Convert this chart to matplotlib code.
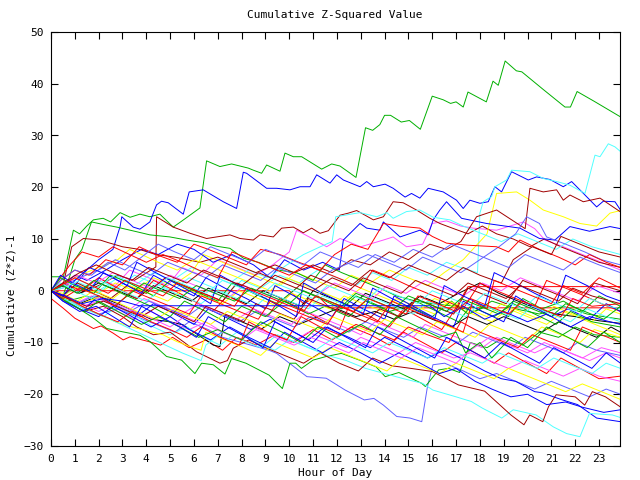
import matplotlib
matplotlib.use("Agg")
import matplotlib.pyplot as plt

# (hour, cumulative value) vertices, one list per trace
green_1 = [(0, 2.7), (0.52, 2.7), (0.94, 11.7), (1.2, 11), (1.5, 12.5), (1.78, 13.7), (2.19, 14.0), (2.5, 13.3),
           (2.9, 15.1), (3.32, 14.2), (3.73, 14.8), (4.15, 14.3), (4.57, 14.8), (5.13, 12.3), (5.5, 13.5), (6.25, 16),
           (6.53, 25.1), (7.09, 24), (7.58, 24.5), (8.28, 23.7), (8.49, 23.3), (8.84, 22.7), (9.05, 24.3), (9.61, 23.1),
           (9.82, 26.6), (10.17, 25.9), (10.52, 25.9), (11.36, 23.5), (11.78, 24.5), (12.13, 24.1), (12.8, 21.9),
           (13.2, 31.5), (13.5, 31.0), (13.8, 32.1), (14.0, 33.9), (14.25, 33.9), (14.7, 32.6), (15.04, 32.9),
           (15.5, 31.2), (16.0, 37.6), (16.46, 36.9), (16.77, 36.2), (17.0, 36.5), (17.3, 35.5), (17.5, 38.4),
           (18.27, 36.5), (18.55, 40.5), (18.77, 39.7), (19.06, 44.4), (19.53, 42.5), (19.76, 42.3), (20.63, 39.0),
           (21.57, 35.5), (21.8, 35.5), (22.08, 38.5), (22.8, 36.6), (23.9, 33.6)]
green_2 = [(0, 0), (0.5, -1), (0.8, 3), (1.0, 6), (1.3, 8), (1.7, 13.3), (2.2, 12.8), (2.76, 12.3), (3.6, 11.4),
           (4.15, 10.8), (4.99, 10.4), (5.69, 9.8), (6.39, 9.3), (6.95, 8.6), (7.51, 8.2), (8.07, 6.3), (8.7, 5.5),
           (9.5, 4), (10.3, 3.5), (11, 2), (11.5, 5), (12.2, 3.5), (13, 2), (13.8, 0.5), (14.5, -1), (15.3, -2),
           (16, -2.5), (17, -3), (17.8, -4), (18.5, -2), (19.5, -3.5), (20.5, -4.5), (21.5, -3), (22.5, -4.5),
           (23.9, -5.5)]
green_3 = [(0, 0), (0.5, -1.5), (1, -3), (1.7, -5), (2.34, -7.3), (2.97, -7.9), (3.73, -8.6), (4.15, -9.8),
           (4.85, -12.7), (5.48, -13.4), (6.04, -16), (6.32, -14.0), (6.81, -14.3), (7.3, -16.1), (7.58, -13.1),
           (8.18, -14), (9.15, -16.3), (9.71, -18.9), (10.03, -14), (10.27, -14), (10.51, -15), (11.0, -13.4),
           (11.55, -12.7), (12.19, -12.1), (13.0, -13.5), (13.64, -14.7), (14.03, -16.6), (14.6, -15.8),
           (15.56, -17.9), (15.71, -18.5), (16.27, -15.3), (16.68, -15.0), (17.15, -15.8), (17.6, -10), (18.3, -11),
           (19, -9), (19.8, -10.5), (20.5, -8), (21.3, -9), (22, -7), (22.8, -8.5), (23.9, -9)]
green_4 = [(0, 0), (0.7, -2), (1.5, -1), (2.5, -3.5), (3.2, -1), (4.2, -3), (5, -5), (5.6, -2), (6.5, -4), (7.3, -6),
           (8, -3), (9, -5), (9.8, -2), (10.8, -4.5), (11.5, -3), (12.5, -5), (13.2, -2), (14.2, -4), (15, -3),
           (16, -5), (16.8, -2), (17.5, -4.5), (18.3, -3), (19.2, -5), (19.8, -1.5), (20.6, -3.5), (21.5, -2),
           (22.3, -4), (23, -1), (23.9, -3)]
green_5 = [(0, 0), (0.4, 2.5), (1, 1), (1.8, -0.5), (2.5, 3), (3.3, 1.5), (4.3, -1), (5, 2), (6, 0), (7, -2),
           (7.6, 1.5), (8.5, -0.5), (9.5, -2.5), (10.3, 0.5), (11.3, -1.5), (12.2, -3.5), (12.8, -1), (13.8, -3),
           (14.6, -5), (15.3, -2), (16.2, -4), (17.1, -6), (17.6, -3), (18.6, -5), (19.4, -2.5), (20.3, -4.5),
           (21.2, -6.5), (21.8, -4), (22.7, -6), (23.9, -7)]
green_6 = [(0, 0), (0.6, -2), (1.4, -4), (2, -2), (3, -4.5), (3.8, -6.5), (4.5, -5), (5.4, -7), (6.2, -9),
           (7, -7.5), (8, -9.5), (8.8, -6), (9.7, -8), (10.5, -10), (11.2, -7), (12, -9), (13, -6.5), (13.8, -8.5),
           (14.5, -5), (15.4, -7), (16.3, -9), (17, -8), (17.4, -12), (18, -10), (18.5, -13), (19.3, -9), (20, -11),
           (20.8, -7), (21.7, -9), (22.5, -11), (23.2, -8), (23.9, -10)]
green_7 = [(0, 0), (0.5, 1), (1.1, -0.5), (1.8, 2), (2.5, 0.5), (3.2, -1), (3.9, 1.5), (4.6, 0), (5.4, -1.5),
           (6.1, 1), (6.9, -0.5), (7.7, -2), (8.4, 0.5), (9.2, -1), (10, -2.5), (10.6, 0), (11.4, -1.5), (12.2, -3),
           (12.8, -0.5), (13.6, -2), (14.4, -3.5), (15, -1), (15.8, -2.5), (16.6, -4), (17.2, -1.5), (18, -3),
           (18.8, -4.5), (19.4, -2), (20.2, -3.5), (21, -5), (21.6, -2.5), (22.4, -4), (23.2, -5.5), (23.9, -3)]

blue_1 = [(0, 0), (0.5, -1), (1, 1), (1.5, 4), (2, 6), (2.6, 8), (2.9, 12.4), (2.97, 14.3), (3.45, 12.3),
          (3.73, 11.9), (4.15, 13.3), (4.43, 16.6), (4.64, 17.3), (4.92, 17.0), (5.55, 14.8), (5.8, 19.1),
          (6.39, 19.5), (7.23, 17.2), (7.79, 15.9), (8.07, 22.9), (8.21, 22.7), (9.05, 19.8), (9.47, 19.8),
          (10.03, 19.5), (10.45, 20.1), (10.87, 20.1), (11.15, 22.4), (11.71, 20.8), (11.99, 22.4), (12.27, 21.4),
          (12.97, 20.1), (13.25, 21.1), (13.53, 20.1), (14.02, 20.6), (14.36, 19.8), (14.86, 18.1), (15.13, 18.8),
          (15.48, 17.9), (15.83, 19.8), (16.46, 19.1), (17.02, 17.5), (17.3, 15.9), (17.58, 17.5), (18.0, 16.9),
          (18.35, 17.2), (18.63, 20.1), (18.91, 19.1), (19.33, 23.0), (20.03, 21.4), (20.38, 22.0), (20.94, 21.5),
          (21.5, 20.1), (21.85, 21.1), (22.41, 18.5), (22.9, 16.2), (23.18, 17.3), (23.67, 17.2), (23.9, 15.6)]
blue_2 = [(0, 0), (0.5, 1), (1, 3), (1.5, 2), (2.3, 4), (3, 6), (3.8, 8), (4.5, 7), (5.3, 9), (6, 8), (6.8, 5.5),
          (7.6, 7), (8.5, 5), (9.2, 2.5), (9.8, 6), (10.6, 4), (11.4, 5.5), (12.1, 4), (12.27, 9.8), (12.97, 13.0),
          (13.25, 12.1), (13.8, 11.7), (13.95, 13.3), (14.65, 10.4), (15.48, 11.7), (15.83, 10.8), (16.04, 13.7),
          (16.32, 15.6), (16.6, 17.2), (17.23, 14), (18.28, 13), (19.68, 12.1), (20.5, 10.1), (21.15, 9.8),
          (21.78, 12.4), (22.6, 11.5), (23.46, 12.4), (23.9, 12)]
blue_3 = [(0, 0), (0.6, -1.5), (1.4, -3.5), (2, -1), (2.8, -3), (3.6, -5), (4.3, -2.5), (5.2, -4.5), (6, -6.5),
          (6.6, -3.5), (7.5, -5.5), (8.4, -7.5), (9.2, -5.5), (10, -7.5), (10.8, -9.5), (11.5, -7), (12.5, -9),
          (13.4, -11), (14, -9), (14.9, -11), (15.8, -13), (16.5, -11.5), (17.4, -13.5), (18.2, -15.5), (18.9, -17),
          (19.5, -17.5), (20.3, -19.5), (20.6, -19.7), (21.4, -21), (22.1, -22), (22.9, -24.6), (23.9, -25.3)]
blue_4 = [(0, 0), (0.5, -2), (1.2, -3.5), (2, -5), (2.6, -3), (3.4, -5), (4.2, -7), (5, -5), (5.8, -7.5),
          (6.7, -9.5), (7.5, -7), (8.3, -9), (9.2, -11), (9.8, -8), (10.6, -10), (11.4, -12), (12.1, -10), (13, -12),
          (13.8, -14), (14.6, -12), (15.5, -14), (16.3, -16), (17, -15), (17.8, -17.5), (18.5, -19), (19.3, -20.5),
          (20, -20), (20.8, -22), (21.6, -21.5), (22.3, -22.5), (23.2, -23.5), (23.9, -23)]
blue_5 = [(0, 0), (0.4, 3), (0.9, 1.5), (1.6, 0), (2.2, 3.5), (3, 1.5), (3.8, -0.5), (4.3, 3), (5.1, 1), (6, -1),
          (6.5, 2.5), (7.3, 0.5), (8.2, -1.5), (9, -3.5), (9.4, 1), (10.2, -1), (11, -3), (11.8, -5), (12.3, -1.5),
          (13.1, -3.5), (14, -5.5), (14.4, -1), (15.2, -3), (16, -5), (16.9, -7), (17.3, -2), (18.1, -4), (19, -6),
          (19.5, -1), (20.2, -3), (21, -5), (21.7, -3.5), (22.6, -5.5), (23.3, -2.5), (23.9, -4)]
blue_6 = [(0, 0), (0.5, -1), (1, 2), (1.6, 4.5), (2.4, 3), (3.2, 1), (3.6, 5.5), (4.4, 3.5), (5.2, 1.5), (6, -0.5),
          (6.7, -2.5), (7.1, 3), (7.9, 1), (8.8, -1), (9.6, -3), (10.3, -5), (10.6, 1.5), (11.4, -0.5), (12.3, -2.5),
          (13.1, -4.5), (13.5, 0.5), (14.3, -1.5), (15.2, -3.5), (16.1, -5.5), (16.5, 1), (17.3, -1), (18.2, -3),
          (18.6, 3.5), (19.5, 1.5), (20.3, -0.5), (21.2, -2.5), (21.6, 3), (22.5, 1), (23.3, -1), (23.9, -2)]
blue_7 = [(0, 0), (0.6, -1), (1.3, -2.5), (2.2, -1.5), (3, -2), (3.7, -2.9), (15.9, -2.9), (16.5, -5), (17.3, -3),
          (18.2, -5.5), (19, -4), (20, -6), (20.8, -4.5), (21.8, -7), (22.6, -5), (23.9, -6.5)]
blue_8 = [(0, 0), (0.5, -2), (1.2, -4), (1.9, -3), (2.6, -5), (3.3, -7), (3.8, -3), (4.6, -5), (5.4, -7), (6.1, -9),
          (6.6, -5), (7.4, -7), (8.2, -9), (8.9, -11), (9.4, -6), (10.2, -8), (11, -10), (11.6, -7), (12.4, -9),
          (13.2, -11), (13.7, -7), (14.5, -9), (15.3, -11), (16.1, -13), (16.6, -9), (17.4, -11), (18.2, -13),
          (18.9, -10), (19.7, -12), (20.5, -14), (21.1, -11), (21.9, -13), (22.7, -15), (23.3, -12), (23.9, -14)]

red_1 = [(0, -1.5), (0.52, -3.4), (1.0, -5.3), (1.78, -7.3), (2.1, -6.8), (2.61, -8.2), (3.03, -9.5), (3.32, -8.9),
         (4.08, -9.8), (4.6, -10.5), (5.1, -9), (5.8, -11), (6.5, -9.5), (7.2, -11.5), (7.8, -9), (8.6, -10.5),
         (9.4, -8.5), (10.2, -10), (11, -7.5), (11.8, -9.5), (12.6, -7), (13.4, -8.5), (14.2, -10.5), (14.8, -8),
         (15.6, -10), (16.4, -12), (17, -10), (17.8, -12), (18.6, -14), (19.2, -12), (20, -14), (20.8, -16),
         (21.4, -13), (22.2, -15), (23, -17), (23.9, -16.5)]
red_2 = [(0, 0), (10.0, 0), (10.6, -2.5), (11.2, -1), (11.7, -3.3), (23.9, -3.3)]
red_3 = [(0, 0), (0.5, 1.5), (1.3, 0), (2, 2.5), (2.8, 0.5), (3.6, -1.5), (4.3, 2), (5.2, 0), (6, -2), (6.8, -4),
         (7.4, -1), (8.3, -3), (9.1, -5), (9.6, -1.5), (10.5, -3.5), (11.3, -5.5), (12.1, -7.5), (12.5, -3),
         (13.4, -5), (14.2, -7), (14.8, -3.5), (15.6, -5.5), (16.4, -7.5), (16.9, -4), (17.5, 0.8), (23.9, 0.8)]
red_4 = [(0, 0), (0.4, 2), (1, 4), (1.6, 3), (2.3, 6), (3, 5), (3.7, 8.5), (4.4, 7), (5.3, 5.5), (6, 9), (6.6, 8),
         (7.4, 6.5), (8.2, 5), (8.8, 8), (9.6, 7), (10.4, 5.5), (11.3, 4), (11.9, 7), (12.6, 9), (13.3, 8),
         (13.95, 13.0), (14.6, 12.5), (15.48, 12.1), (16, 10.5), (16.6, 9.2), (17.5, 8.8), (18.7, 8.5), (19.2, 7.5),
         (19.68, 9.8), (20.5, 8), (21.3, 6.5), (22, 5), (22.6, 7), (23.3, 5.5), (23.9, 4.5)]
red_5 = [(0, 0), (0.3, 2), (0.8, 5), (1.3, 7.5), (2, 6.5), (2.6, 8.5), (3.3, 7), (4, 5.5), (4.7, 7), (5.5, 5.5),
         (6.2, 4), (7, 2.5), (7.6, 7.5), (8.4, 6), (9.2, 4.5), (10, 3), (10.7, 5), (11.5, 3.5), (12.3, 2), (13, 0.5),
         (13.5, 4), (14.3, 2.5), (15, 1), (15.8, -0.5), (16.6, -2), (17.3, -3.5), (18, 1.5), (18.7, 0), (19.5, -1.5),
         (20.3, -3), (20.8, 2), (21.6, 0.5), (22.4, -1), (23.1, -2.5), (23.9, -4)]
red_6 = [(0, 0), (0.6, -1), (1.3, -3), (2, -4.5), (2.8, -6), (3.4, -4), (4.2, -6), (5, -7.5), (5.7, -9), (6.3, -7),
         (7.1, -9), (7.9, -10.5), (8.3, -6), (9.1, -8), (9.9, -9.5), (10.5, -5), (11.3, -7), (12.1, -8.5),
         (12.8, -6.5), (13.6, -8), (14.4, -9.5), (15, -7), (15.8, -8.5), (16.7, -10), (17.2, -6), (18, -8),
         (18.8, -9.5), (19.6, -11), (20.2, -8.5), (21, -10), (21.8, -11.5), (22.3, -7), (23.1, -8.5), (23.9, -10)]
red_7 = [(0, 0), (0.5, -1.5), (1.2, 0.5), (2, -1), (2.7, -3), (3.4, 0), (4.2, -1.5), (5, -3), (5.8, -4.5),
         (6.3, -1), (7.1, -2.5), (7.9, -4), (8.7, -5.5), (9.2, -2), (10, -3.5), (10.8, -5), (11.6, -6.5), (12.1, -3),
         (12.9, -4.5), (13.7, -6), (14.3, -2), (15, -3.5), (15.8, -5), (16.6, -6.5), (17.3, -8), (17.7, -2),
         (18.3, -3.5), (18.6, 2), (19.4, 0.5), (20.2, -1), (21, -2.5), (21.5, 1), (22.3, -0.5), (23, 2.5),
         (23.9, 0.5)]
red_8 = [(0, 0), (0.4, 1), (1, 2.5), (1.7, 1), (2.4, -0.5), (3.1, 2), (3.9, 0.5), (4.7, -1), (5.3, 1.5), (6.1, 0),
         (6.9, -1.5), (7.7, -3), (8.2, 0.5), (9, -1), (9.8, -2.5), (10.6, -4), (11.1, -1), (11.9, -2.5), (12.7, -4),
         (13.3, -1.5), (14.1, -3), (14.9, -4.5), (15.4, -1), (16.2, -2.5), (17, -4), (17.6, -1.5), (18.4, -3),
         (19.2, -4.5), (19.8, -2), (20.6, -3.5), (21.4, -5), (21.9, -1.5), (22.7, -3), (23.9, -2.5)]

darkred_1 = [(0, 0), (0.6, 1.5), (1.2, -0.5), (2, 1), (2.8, 3), (3.5, 2), (4.4, 4.6), (4.43, 14.3), (5.13, 12.3),
             (5.84, 11.1), (6.53, 10.1), (7.51, 10.8), (7.93, 10.1), (8.49, 9.8), (8.77, 10.8), (9.33, 10.4),
             (9.68, 12.1), (10.17, 12.3), (10.59, 11.2), (10.94, 12.1), (11.29, 11.1), (11.64, 11.6), (12.13, 14.6),
             (12.48, 15.0), (12.83, 15.5), (13.53, 13.7), (13.95, 14.3), (14.36, 17.2), (14.78, 17.0), (15.34, 15.6),
             (15.9, 14.0), (16.32, 13.0), (16.9, 12), (17.5, 11), (18.1, 12.5), (18.7, 11), (19.4, 10), (20.1, 8.5),
             (20.7, 10), (21.4, 8.5), (22.2, 7), (23, 5.5), (23.9, 4.5)]
darkred_2 = [(0, 0), (0.5, 1), (0.87, 8.5), (1.36, 10.1), (2.06, 9.8), (2.4, 9.3), (3, 8.5), (3.7, 8), (4.4, 7),
             (5.2, 6.5), (6.25, 5.5), (7, 6.5), (7.8, 5), (8.6, 3.5), (9.4, 5), (10.2, 3.5), (11, 5), (11.8, 3.5),
             (12.6, 6), (13.4, 5), (14.2, 7.5), (15, 6), (15.9, 9), (16.6, 8), (17.2, 9.5), (17.86, 14.3),
             (18.7, 15.6), (19.4, 13.5), (19.9, 12), (20.1, 19.8), (20.66, 19.1), (21.22, 19.5), (21.5, 17.5),
             (21.78, 18.5), (22.34, 17.2), (23.04, 17.9), (23.88, 15.3)]
darkred_3 = [(0, 0), (0.6, -2), (1.4, -4), (2.2, -3), (3, -5), (3.6, -7), (4.3, -8.5), (5.0, -8), (5.6, -10),
             (6.11, -11.8), (7.09, -14), (7.4, -13.5), (7.65, -11.1), (8.3, -9.5), (9, -11), (9.8, -12.5), (10.6, -14),
             (11.3, -12), (12.1, -14), (12.9, -15.5), (13.5, -13), (14.3, -14.5), (15.1, -15), (16.0, -15.6),
             (17.1, -18.2), (18.2, -19.4), (19.3, -24.0), (19.85, -25.9), (20.09, -24.0), (20.64, -25.3),
             (20.88, -22.4), (21.2, -20.1), (22.0, -20.5), (22.4, -22.1), (22.72, -19.5), (23.27, -20.5),
             (23.88, -22.4)]
darkred_4 = [(0, 0), (0.5, -1), (1.1, 1.5), (1.8, 0), (2.5, -1.5), (3.2, 1), (4, -0.5), (4.8, 2.5), (5.6, 1),
             (6.4, -0.5), (7.2, -2), (7.8, 1.5), (8.6, 0), (9.4, 3), (10.2, 1.5), (11, 0), (11.8, 2.5), (12.6, 1),
             (13.4, 4), (14.2, 2.5), (15, 5), (15.8, 3.5), (16.6, 2), (17.3, 4.5), (18, 3), (18.9, 1.5), (19.4, 6),
             (20.2, 8.5), (21, 7), (21.4, 10.5), (22.2, 9), (23, 7.5), (23.9, 6.5)]
darkred_5 = [(0, 0), (0.7, -1.5), (1.5, -3), (2.2, -2), (3, -3.5), (3.8, -5), (4.5, -3), (5.3, -4.5), (6, -6),
             (6.5, -3), (7.3, -4.5), (8.1, -6), (8.6, -2.5), (9.4, -4), (10.2, -5.5), (10.8, -1.5), (11.6, -3),
             (12.4, -4.5), (13.2, -6), (13.8, -3.5), (14.6, -5), (15.3, -1.5), (16.1, -3), (16.9, -4.5), (17.5, 0.5),
             (18.3, -1), (19.1, -2.5), (19.8, 2), (20.6, 0.5), (21.4, -1), (22.1, -2.5), (22.8, 1.5), (23.9, 0)]
darkred_6 = [(0, 0), (0.5, 1.5), (1.2, 3.5), (1.9, 5), (2.6, 3.5), (3.4, 2), (4.1, 4.5), (4.9, 3), (5.7, 1.5),
             (6.4, 4), (7.2, 2.5), (8, 1), (8.7, 3.5), (9.5, 2), (10.3, 0.5), (10.9, 3), (11.7, 1.5), (12.5, 0),
             (13.1, 2.5), (13.9, 1), (14.7, -0.5), (15.3, 2), (16.1, 0.5), (16.9, -1), (17.5, 1.5), (18.3, 0),
             (19.1, -1.5), (19.7, 1), (20.5, -0.5), (21.3, -2), (21.9, 0.5), (22.7, -1), (23.9, -2.5)]

magenta_1 = [(0, 0), (0.5, 1.5), (1.2, 0), (2, 2.5), (2.7, 1), (3.3, 4), (4.1, 2.5), (4.9, 1), (5.5, 4.5), (6.3, 3),
             (7, 6), (7.8, 4.5), (8.6, 3), (9.3, 5), (10.0, 7.5), (10.31, 11.7), (11, 10), (11.57, 8.5),
             (12.13, 10.1), (13, 8.5), (13.95, 9.8), (14.36, 10.4), (14.92, 8.5), (15.6, 9), (16.0, 13), (16.6, 13.5),
             (17.2, 12.5), (17.72, 12.1), (18.7, 11.7), (19.82, 13.3), (20.3, 12), (20.73, 9.8), (21.5, 8.5),
             (22.3, 7), (23.1, 5.5), (23.9, 4)]
magenta_2 = [(0, 0), (0.6, -1.5), (1.3, -3), (2, -2), (2.8, -4), (3.5, -5.5), (4.2, -4), (5, -6), (5.8, -7.5),
             (6.5, -6), (7.2, -8), (8, -9.5), (8.5, -7), (9.3, -8.5), (10.1, -10), (10.8, -8), (11.6, -9.5),
             (12.4, -11), (13, -9), (13.8, -10.5), (14.6, -12), (15.3, -10), (16.1, -11.5), (16.9, -13), (17.6, -12),
             (18.4, -13.5), (19.2, -15), (19.9, -13.5), (20.7, -15), (21.5, -16.5), (22.2, -15), (23, -16.5),
             (23.9, -17.5)]
magenta_3 = [(0, 0), (0.4, -1), (1, -2.5), (1.7, -1), (2.5, -2.5), (3.2, -4), (3.9, -1.5), (4.7, -3), (5.5, -4.5),
             (6.2, -2.5), (7, -4), (7.8, -5.5), (8.5, -3.5), (9.3, -5), (10.1, -6.5), (10.7, -4), (11.5, -5.5),
             (12.3, -7), (13, -8.5), (13.6, -6), (14.4, -7.5), (15.2, -9), (15.7, -6.5), (16.5, -8), (17.3, -9.5),
             (18.1, -11), (18.7, -9), (19.5, -10.5), (20.3, -12), (21, -10.5), (21.8, -12), (22.6, -13.5),
             (23.3, -12), (23.9, -13)]
magenta_4 = [(0, 0), (0.5, 0.5), (1.1, 3), (1.9, 1.5), (2.6, 3.5), (3.4, 2), (4.2, 0.5), (5, 3), (5.8, 1.5),
             (6.6, 0), (7.4, -1.5), (8.1, 1), (8.9, -0.5), (9.7, -2), (10.3, 0.5), (11.1, -1), (11.9, 1.5), (12.7, 0),
             (13.5, -1.5), (14.1, 1), (14.9, -0.5), (15.7, 2), (16.5, 0.5), (17.3, -1), (18.1, 1.5), (18.9, 0),
             (19.7, 2.5), (20.5, 1), (21.3, -0.5), (22.1, -2), (22.9, 1), (23.9, -0.5)]
magenta_5 = [(0, 0), (0.6, -1), (1.3, -2.5), (2, -4), (2.7, -2.5), (3.5, -4), (4.3, -5.5), (5, -7), (5.6, -5),
             (6.4, -6.5), (7.2, -8), (8, -9.5), (8.6, -7.5), (9.4, -9), (10.2, -10.5), (10.9, -9), (11.7, -10.5),
             (12.5, -12), (13.1, -10), (13.9, -11.5), (14.7, -13), (15.4, -11), (16.2, -12.5), (17, -14),
             (17.6, -11.5), (18.4, -9), (19.2, -10.5), (20, -12), (20.7, -10), (21.5, -11.5), (22.3, -13),
             (23.1, -11), (23.9, -12)]

cyan_1 = [(0, 0), (0.6, 1), (1.3, -0.5), (2, 2), (2.8, 0.5), (3.5, 3), (4.3, 1.5), (5.1, 0), (5.8, 2.5), (6.6, 1),
          (7.4, -0.5), (8, 2), (8.8, 0.5), (9.6, 3), (10.4, 1.5), (11.2, 4), (12, 2.5), (12.8, 1), (13.5, 3.5),
          (14.3, 2), (15, 4.5), (15.8, 3), (16.6, 5.5), (17.2, 4.5), (17.9, 3.5), (18.0, 15), (18.14, 17.2),
          (18.49, 18.2), (18.63, 20.1), (19.12, 21.4), (19.33, 23.3), (20.1, 23.0), (20.66, 21.7), (21.22, 21.1),
          (21.78, 20.4), (22.41, 18.8), (22.83, 26.2), (23.04, 25.9), (23.39, 28.4), (23.67, 27.8), (23.9, 26.9)]
cyan_2 = [(0, 0), (0.5, -1), (1.2, 1.5), (2, 0), (2.8, 2.5), (3.5, 1), (4.3, 3.5), (5.1, 2), (5.9, 4.5), (6.7, 3),
          (7.5, 1.5), (8.3, 4), (9.1, 2.5), (9.9, 5), (10.6, 7), (11.3, 8.5), (11.8, 9.5), (11.95, 14.3),
          (12.97, 15.1), (13.67, 14.3), (14.09, 15.1), (14.36, 14.0), (14.92, 15.3), (15.48, 15.6), (16.04, 14.2),
          (16.74, 13.7), (17.3, 12.5), (18.1, 11), (18.9, 9.5), (19.6, 11), (20.4, 9.5), (21.2, 8), (21.9, 10),
          (22.7, 8.5), (23.9, 7)]
cyan_3 = [(0, 0), (0.6, -2), (1.4, -3.5), (2.2, -5), (2.8, -3), (3.6, -5), (4.3, -7), (5, -8.5), (5.7, -7),
          (6.4, -9), (7.1, -10.5), (7.8, -8), (8.6, -10), (9.4, -11.5), (10, -9.5), (10.8, -11), (11.6, -12.5),
          (12.4, -13.5), (13.2, -15), (14, -16), (14.8, -17), (15.6, -17.9), (16.03, -19.2), (17.0, -20.5),
          (17.64, -21.4), (18.11, -22.7), (18.92, -24.6), (19.4, -23.0), (20.36, -24.0), (21.08, -26.3),
          (21.64, -27.6), (22.2, -28.2), (22.6, -23.7), (23.56, -24.0), (23.9, -24.5)]
cyan_4 = [(0, 0), (0.5, -1.5), (1.2, -3), (2, -4.5), (2.7, -6), (3.4, -7.5), (4.1, -9), (4.8, -10.5), (5.5, -12),
          (6.3, -13.5), (6.5, -10.5), (7.2, -8), (8, -9.5), (8.8, -11), (9.5, -8.5), (10.3, -10), (11.1, -11.5),
          (11.9, -9), (12.7, -10.5), (13.5, -12), (14.2, -10), (15, -11.5), (15.8, -13), (16.5, -11), (17.3, -12.5),
          (18.1, -14), (18.8, -12), (19.6, -13.5), (20.4, -15), (21.1, -13), (21.9, -14.5), (22.7, -16),
          (23.3, -14), (23.9, -15)]
cyan_5 = [(0, 0), (0.4, 1.5), (1, 0), (1.7, -1.5), (2.4, 1), (3.2, -0.5), (4, -2), (4.7, 0.5), (5.5, -1),
          (6.3, -2.5), (7, 0), (7.8, -1.5), (8.6, -3), (9.2, -0.5), (10, -2), (10.8, -3.5), (11.4, -1), (12.2, -2.5),
          (13, -4), (13.6, -1.5), (14.4, -3), (15.2, -4.5), (15.8, -2), (16.6, -3.5), (17.4, -5), (18, -2.5),
          (18.8, -4), (19.6, -5.5), (20.2, -3), (21, -4.5), (21.8, -6), (22.5, -3.5), (23.3, -5), (23.9, -6)]
cyan_6 = [(0, 0), (0.5, 0.5), (1.2, 2), (1.9, 0.5), (2.7, 3), (3.4, 1.5), (4.2, 0), (4.9, 2.5), (5.7, 1),
          (6.5, -0.5), (7.2, 2), (8, 0.5), (8.8, -1), (9.4, 1.5), (10.2, 0), (11, -1.5), (11.6, 1), (12.4, -0.5),
          (13.2, -2), (13.8, 0.5), (14.6, -1), (15.4, -2.5), (16, 0), (16.8, -1.5), (17.6, -3), (18.2, -0.5),
          (19, -2), (19.8, -3.5), (20.4, -1), (21.2, -2.5), (22, -4), (22.6, -1.5), (23.4, -3), (23.9, -3.5)]

yellow_1 = [(0, 0), (0.5, -1), (1.2, 1), (2, -0.5), (2.7, 1.5), (3.5, 0), (4.3, 2.5), (5.1, 1), (5.9, 3.5), (6.4, 7),
            (7.2, 5.5), (8, 4), (8.8, 2.5), (9.6, 1), (10.3, 3.5), (11.1, 2), (11.9, 0.5), (12.6, 3), (13.4, 1.5),
            (14.2, 4), (15, 2.5), (15.8, 1), (16.5, 3.5), (17.3, 6), (17.8, 8.5), (18.3, 11), (18.7, 18.8),
            (19.54, 19.1), (20.1, 17.5), (20.66, 15.6), (21.5, 14.3), (22.2, 13.0), (22.9, 12.5), (23.46, 15),
            (23.9, 15.5)]
yellow_2 = [(0, 0), (0.5, 1), (1.2, 3), (2, 4.5), (2.8, 6), (3.3, 8), (3.8, 7), (4.5, 5.5), (5.3, 4), (6, 6),
            (6.8, 4.5), (7.6, 3), (8.4, 1.5), (9.2, 0), (9.9, 2.5), (10.7, 1), (11.5, -0.5), (12.3, -2), (13, 0.5),
            (13.8, -1), (14.6, -2.5), (15.4, -4), (16.1, -1.5), (16.9, -3), (17.7, -4.5), (18.5, -6), (19.2, -3.5),
            (20, -5), (20.8, -6.5), (21.5, -4), (22.3, -5.5), (23.1, -7), (23.9, -8.5)]
yellow_3 = [(0, 0), (0.6, -1.5), (1.3, -3), (2, -4.5), (2.7, -6), (3.4, -7), (4.15, -7.9), (4.7, -8.5),
            (5.27, -9.8), (5.84, -10.8), (6.3, -11.5), (6.5, -8), (7.3, -9.5), (8.1, -11), (8.8, -12.5), (9.4, -10),
            (10.2, -11.5), (11, -13), (11.7, -11), (12.5, -12.5), (13.3, -14), (14.1, -15.5), (14.7, -13),
            (15.5, -14.5), (16.3, -16), (17, -14), (17.8, -15.5), (18.6, -17), (19.2, -15), (20, -16.5), (20.8, -18),
            (21.6, -19.5), (22.3, -18), (23.1, -19.5), (23.9, -21)]
yellow_4 = [(0, 0), (0.5, -0.5), (1.1, -2), (1.8, 0), (2.6, -1.5), (3.3, 1), (4.1, -0.5), (4.9, -2), (5.6, 0.5),
            (6.4, -1), (7.2, -2.5), (7.9, 0), (8.7, -1.5), (9.5, -3), (10.1, -0.5), (10.9, -2), (11.7, -3.5),
            (12.3, -1), (13.1, -2.5), (13.9, -4), (14.5, -1.5), (15.3, -3), (16.1, -4.5), (16.7, -2), (17.5, -3.5),
            (18.3, -5), (18.9, -2.5), (19.7, -4), (20.5, -5.5), (21.1, -3), (21.9, -4.5), (22.7, -6), (23.3, -3.5),
            (23.9, -4.5)]
yellow_5 = [(0, 0), (0.6, -1), (1.3, -2.5), (2.1, -1), (2.9, -2.5), (3.6, -4), (4.4, -5.5), (5.1, -3.5), (5.9, -5),
            (6.7, -6.5), (7.4, -4), (8.2, -5.5), (9, -7), (9.6, -4.5), (10.4, -6), (11.2, -7.5), (11.8, -5),
            (12.6, -6.5), (13.4, -8), (14, -5.5), (14.8, -7), (15.6, -8.5), (16.2, -6), (17, -7.5), (17.8, -9),
            (18.4, -6.5), (19.2, -8), (20, -9.5), (20.6, -7), (21.4, -8.5), (22.2, -10), (22.8, -7.5), (23.9, -9)]

black_1 = [(0, 0), (0.5, -1), (1.2, -2.5), (2, -1), (2.8, -2.5), (3.5, -4), (4.2, -5.5), (5, -6), (5.55, -6.6),
           (6.39, -9.2), (6.81, -10.5), (7.09, -10.8), (7.3, -4.7), (8, -6), (8.8, -7.5), (9.6, -5), (10.4, -6.5),
           (11.2, -5), (12, -3.5), (12.8, -5), (13.6, -4), (14.4, -5.5), (15.2, -4), (16, -5.5), (16.8, -7),
           (17.5, -5), (18.3, -6.5), (19, -5), (19.8, -6.5), (20.6, -8), (21.3, -6), (22.1, -7.5), (22.9, -9),
           (23.5, -7), (23.9, -8)]
black_2 = [(0, 0), (0.4, 1), (1.2, -0.5), (2, 1.5), (2.8, 0), (3.6, -1.5), (4.3, 1), (5.1, -0.5), (5.9, -2),
           (6.6, 0.5), (7.4, -1), (8.2, -2.5), (8.9, 0), (9.7, -1.5), (10.5, -3), (11, 0), (11.8, -1.5), (12.6, -3),
           (13.2, -0.5), (14, -2), (14.8, -3.5), (15.5, -1), (16.3, -2.5), (17.1, -0.5), (18, 1.5), (18.8, -0.5),
           (19.6, -2), (20.4, -3.5), (21.2, -4.5), (22, -5), (23, -5.8), (23.9, -6.3)]

slate_1 = [(0, 0), (0.6, -1.5), (1.3, -3), (2, -4.5), (2.8, -3.5), (3.6, -5), (4.4, -6.5), (5.2, -8), (5.8, -6),
           (6.6, -7.5), (7.2, -9), (8, -10), (9.15, -11.5), (9.47, -12.1), (10.74, -16.6), (11.55, -16.9),
           (12.35, -19.2), (13.15, -21.1), (13.55, -20.8), (13.95, -22.1), (14.51, -24.3), (15.07, -24.6),
           (15.56, -25.3), (15.8, -18.5), (16.03, -14.3), (16.52, -14.0), (17.3, -15.5), (18, -17), (18.7, -16),
           (19.5, -17.5), (20.3, -19), (21, -17.5), (21.8, -19), (22.6, -20.5), (23.3, -19), (23.9, -20)]
slate_2 = [(0, 0), (0.5, 1), (1.2, 2.5), (2, 4), (2.7, 6), (3.4, 4.5), (4.2, 3), (4.9, 5.5), (5.7, 4), (6.5, 2.5),
           (7.2, 5), (8, 3.5), (8.8, 2), (9.5, 4.5), (10.3, 3), (11.1, 1.5), (11.8, 4), (12.6, 5.5), (13.3, 7),
           (14.1, 5.5), (14.9, 4), (15.6, 6.5), (16.4, 5), (17.2, 3.5), (18, 6), (18.8, 8.5), (19.5, 11),
           (19.96, 14.3), (20.5, 13), (20.8, 10.4), (21.6, 9), (22.4, 7.5), (23.1, 6), (23.9, 5)]
slate_3 = [(0, 0), (0.5, -1), (1.1, -2.5), (1.8, -1), (2.6, -2.5), (3.3, -4), (4.1, -2), (4.9, -3.5), (5.7, -5),
           (6.3, -3), (7.1, -4.5), (7.9, -6), (8.6, -4), (9.4, -5.5), (10.2, -7), (10.9, -5), (11.7, -6.5), (12.5, -8),
           (13.2, -6), (14, -7.5), (14.8, -9), (15.5, -7), (16.3, -8.5), (17.1, -10), (17.7, -8), (18.5, -9.5),
           (19.3, -11), (19.9, -9), (20.7, -10.5), (21.5, -12), (22.1, -10), (22.9, -11.5), (23.9, -12.5)]
slate_4 = [(0, 0), (0.4, 2), (1, 4), (1.7, 3), (2.4, 5.5), (3.1, 4), (3.8, 6.5), (4.5, 9), (5.2, 7.5), (6, 6),
           (6.7, 8.5), (7.5, 7), (8.3, 5.5), (9, 8), (9.8, 6.5), (10.6, 5), (11.3, 7.5), (12.1, 6), (12.9, 4.5),
           (13.6, 7), (14.4, 5.5), (15.2, 8), (16, 6.5), (16.8, 9), (17.6, 7.5), (18.4, 6), (19.2, 4.5), (19.9, 7),
           (20.7, 5.5), (21.5, 4), (22.2, 6.5), (23, 5), (23.9, 3.5)]

COLORS = {
    "red": "#ff0000", "green": "#00b000", "blue": "#0000ff", "magenta": "#ff50ff",
    "cyan": "#50ffff", "darkred": "#a00000", "yellow": "#ffff00", "black": "#000000",
    "slate": "#6060ff",
}

# drawing order interleaves the colours the way the plotter cycles them
SERIES = [
    ("red", red_1), ("green", green_1), ("blue", blue_1), ("magenta", magenta_1), ("cyan", cyan_1),
    ("darkred", darkred_1), ("yellow", yellow_1), ("black", black_1), ("slate", slate_1),
    ("red", red_2), ("green", green_2), ("blue", blue_2), ("magenta", magenta_2), ("cyan", cyan_2),
    ("darkred", darkred_2), ("yellow", yellow_2), ("black", black_2), ("slate", slate_2),
    ("red", red_3), ("green", green_3), ("blue", blue_3), ("magenta", magenta_3), ("cyan", cyan_3),
    ("darkred", darkred_3), ("yellow", yellow_3), ("slate", slate_3),
    ("red", red_4), ("green", green_4), ("blue", blue_4), ("magenta", magenta_4), ("cyan", cyan_4),
    ("darkred", darkred_4), ("yellow", yellow_4), ("slate", slate_4),
    ("red", red_5), ("green", green_5), ("blue", blue_5), ("magenta", magenta_5), ("cyan", cyan_5),
    ("darkred", darkred_5), ("yellow", yellow_5),
    ("red", red_6), ("green", green_6), ("blue", blue_6), ("cyan", cyan_6), ("darkred", darkred_6),
    ("red", red_7), ("green", green_7), ("blue", blue_7),
    ("red", red_8), ("blue", blue_8),
]

HOUR_TICKS = list(range(24))
Y_TICKS = list(range(-30, 51, 10))

FONT = "DejaVu Sans Mono"

fig = plt.figure(figsize=(6.4, 4.8), dpi=100)
ax = fig.add_axes([51 / 640, 34 / 480, 569 / 640, 414 / 480])

for name, pts in SERIES:
    h = [p[0] for p in pts]
    v = [p[1] for p in pts]
    ax.plot(h, v, color=COLORS[name], lw=0.7)

ax.set_xlim(0, 23.88)
ax.set_ylim(-30, 50)
ax.set_xticks(HOUR_TICKS)
ax.set_yticks(Y_TICKS)
ax.tick_params(direction="in", length=5, width=0.8, top=True, right=True,
               labelsize=8, colors="black")
ax.tick_params(axis="x", pad=6)
ax.tick_params(axis="y", pad=5)
for lbl in ax.get_xticklabels() + ax.get_yticklabels():
    lbl.set_family(FONT)
for sp in ax.spines.values():
    sp.set_linewidth(0.8)

fig.text(335 / 640, 1 - 15 / 480, "Cumulative Z-Squared Value", ha="center", va="center",
         fontsize=8, family=FONT)
fig.text(335 / 640, 1 - 473 / 480, "Hour of Day", ha="center", va="center", fontsize=8, family=FONT)
fig.text(12 / 640, 1 - 295 / 480, "Cumulative (Z*Z)-1", ha="center", va="center", rotation=90,
         fontsize=8, family=FONT)

fig.savefig("out.png", dpi=100)
